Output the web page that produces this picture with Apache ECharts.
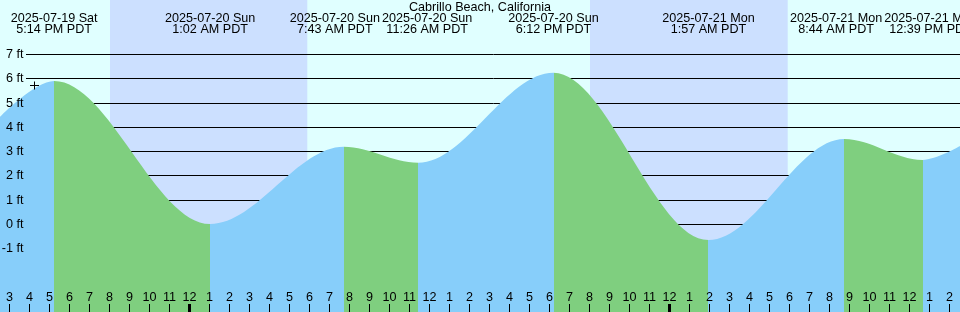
<!DOCTYPE html>
<html><head><meta charset="utf-8">
<script src="https://cdn.jsdelivr.net/npm/echarts@6/dist/echarts.min.js"></script>
<style>html,body{margin:0;padding:0;background:#e0ffff}#c{width:960px;height:312px}</style>
</head><body><div id="c"></div>
<script>
const chartTitle = 'Cabrillo Beach, California';
// times are hours counted from 2025-07-19 00:00 PDT
const extremeHours = [17.233, 25.033, 31.717, 35.433, 42.2, 49.95, 56.733, 60.65];
const extremeFeet = [5.91, 0.02, 3.2, 2.54, 6.25, -0.64, 3.52, 2.66];
const extremeDates = ['2025-07-19 Sat', '2025-07-20 Sun', '2025-07-20 Sun', '2025-07-20 Sun', '2025-07-20 Sun', '2025-07-21 Mon', '2025-07-21 Mon', '2025-07-21 Mon'];
const extremeClock = ['5:14 PM PDT', '1:02 AM PDT', '7:43 AM PDT', '11:26 AM PDT', '6:12 PM PDT', '1:57 AM PDT', '8:44 AM PDT', '12:39 PM PDT'];
const edgeHours = [14.525, 62.525];
const edgeFeet = [4.43, 3.23];
const nightStartHours = [20.025, 44.025];
const nightEndHours = [29.89, 53.91];
const heightTicks = [-1, 0, 1, 2, 3, 4, 5, 6, 7];
const midnightHours = [24, 48];
const nowMarker = [16.25, 5.72];
const hourRange = [14, 63];
const feetRange = [-3.603, 9.244];

const DAY = '#e0ffff', NIGHT = '#cce0ff', RISING = '#87cefa', FALLING = '#7fcf7f';
const FAMILY = '"Liberation Sans", Arial, sans-serif';
const FSIZE = 12.6;
const FONT = FSIZE + 'px ' + FAMILY;

const tideData = [[edgeHours[0], edgeFeet[0]]]
  .concat(extremeHours.map((h, i) => [h, extremeFeet[i]]))
  .concat([[edgeHours[1], edgeFeet[1]]]);

// colour pieces: rising segments blue, falling green
const pieces = [];
for (let i = 0; i <= extremeHours.length; i++) {
  const a = tideData[i][1], b = tideData[i + 1][1];
  const color = b > a ? RISING : FALLING;
  const p = { color };
  if (i > 0) p.gt = extremeHours[i - 1];
  if (i < extremeHours.length) p.lte = extremeHours[i];
  pieces.push(p);
}

// text measuring for spreading overlapping top labels apart
const measureCtx = document.createElement('canvas').getContext('2d');
measureCtx.font = FONT;
const labelWidths = extremeHours.map((h, i) =>
  Math.max(measureCtx.measureText(extremeDates[i]).width, measureCtx.measureText(extremeClock[i]).width));
function spreadLabels(api) {
  const c = extremeHours.map(h => api.coord([h, 0])[0]);
  for (let pass = 0; pass < 10; pass++) {
    for (let i = 0; i < c.length - 1; i++) {
      const need = (labelWidths[i] + labelWidths[i + 1]) / 2 + 2;
      const d = c[i + 1] - c[i];
      if (d < need) { const s = (need - d) / 2; c[i] -= s; c[i + 1] += s; }
    }
  }
  return c;
}

const chart = echarts.init(document.getElementById('c'), null, { renderer: 'canvas' });
const crisp = v => Math.round(v - 0.5) + 0.5;

chart.setOption({
  animation: false,
  backgroundColor: DAY,
  title: {
    text: chartTitle, left: 'center', top: 1, padding: 0,
    textStyle: { fontSize: FSIZE, fontWeight: 'normal', fontFamily: FAMILY, color: '#000' }
  },
  grid: { left: -10.5, right: -9.5, top: 0, bottom: 0, outerBoundsMode: 'none' },
  xAxis: {
    type: 'value', min: hourRange[0], max: hourRange[1], interval: 1, z: 10,
    position: 'bottom',
    axisLine: { show: false, onZero: false },
    splitLine: { show: false },
    axisTick: { inside: true, length: 8, lineStyle: { color: '#000', width: 1 } },
    axisLabel: {
      inside: true, margin: 8, color: '#000', fontSize: FSIZE,
      fontFamily: FAMILY,
      showMinLabel: true, showMaxLabel: true, hideOverlap: false,
      formatter: v => {
        if (Math.abs(v - Math.round(v)) > 1e-6) return '';
        const h = Math.round(v) % 24;
        return String(h % 12 === 0 ? 12 : h % 12);
      }
    }
  },
  yAxis: { type: 'value', min: feetRange[0], max: feetRange[1], show: false },
  visualMap: { type: 'piecewise', show: false, dimension: 0, seriesIndex: 2, pieces },
  series: [
    { // night shading
      type: 'custom', z: 1, silent: true,
      data: nightStartHours.map((s, i) => [s, nightEndHours[i], 0]),
      encode: { x: [0, 1], y: 2 },
      renderItem: (params, api) => {
        const p0 = api.coord([api.value(0), feetRange[1]]);
        const p1 = api.coord([api.value(1), feetRange[0]]);
        return { type: 'rect', shape: { x: p0[0], y: p0[1], width: p1[0] - p0[0], height: p1[1] - p0[1] }, style: { fill: NIGHT } };
      }
    },
    { // horizontal foot lines
      type: 'custom', z: 2, silent: true,
      data: heightTicks.map(v => [hourRange[0], v]),
      encode: { x: 0, y: 1 },
      renderItem: (params, api) => {
        const y = crisp(api.coord([api.value(0), api.value(1)])[1]);
        const cs = params.coordSys;
        return { type: 'line', shape: { x1: 26, y1: y, x2: cs.x + cs.width, y2: y }, style: { stroke: '#000', lineWidth: 1 } };
      }
    },
    { // tide
      type: 'line', z: 3, silent: true,
      data: tideData,
      smooth: 0.35, smoothMonotone: 'x',
      showSymbol: false, symbol: 'none',
      lineStyle: { width: 0 },
      areaStyle: { opacity: 1, origin: 'start' }
    },
    { // height labels
      type: 'custom', z: 5, silent: true,
      data: heightTicks.map(v => [hourRange[0], v]),
      encode: { x: 0, y: 1 },
      renderItem: (params, api) => {
        const y = api.coord([api.value(0), api.value(1)])[1];
        return { type: 'text', style: { text: api.value(1) + ' ft', x: 23.5, y: y, align: 'right', verticalAlign: 'middle', font: FONT, fill: '#000' } };
      }
    },
    { // extreme labels along top
      type: 'custom', z: 5, silent: true,
      data: extremeHours.map((h, i) => [h, extremeFeet[i], i]),
      encode: { x: 0, y: 1 },
      renderItem: (params, api) => {
        const centers = spreadLabels(api);
        const i = api.value(2);
        const x = centers[i];
        return {
          type: 'group', children: [
            { type: 'text', style: { text: extremeDates[i], x: x, y: 18.2, align: 'center', verticalAlign: 'middle', font: FONT, fill: '#000' } },
            { type: 'text', style: { text: extremeClock[i], x: x, y: 29.9, align: 'center', verticalAlign: 'middle', font: FONT, fill: '#000' } }
          ]
        };
      }
    },
    { // midnight ticks
      type: 'custom', z: 11, silent: true,
      data: midnightHours.map(h => [h, feetRange[0]]),
      encode: { x: 0, y: 1 },
      renderItem: (params, api) => {
        const p = api.coord([api.value(0), api.value(1)]);
        return { type: 'rect', shape: { x: Math.round(p[0] - 1.5), y: p[1] - 8, width: 3, height: 8 }, style: { fill: '#000' } };
      }
    },
    { // now marker
      type: 'custom', z: 6, silent: true,
      data: [nowMarker],
      encode: { x: 0, y: 1 },
      renderItem: (params, api) => {
        const p = api.coord([api.value(0), api.value(1)]);
        const cx = crisp(p[0]), cy = crisp(p[1]);
        return {
          type: 'group', children: [
            { type: 'line', shape: { x1: cx - 4.5, y1: cy, x2: cx + 4.5, y2: cy }, style: { stroke: '#000', lineWidth: 1 } },
            { type: 'line', shape: { x1: cx, y1: cy - 4, x2: cx, y2: cy + 4 }, style: { stroke: '#000', lineWidth: 1 } }
          ]
        };
      }
    }
  ]
});
</script></body></html>
